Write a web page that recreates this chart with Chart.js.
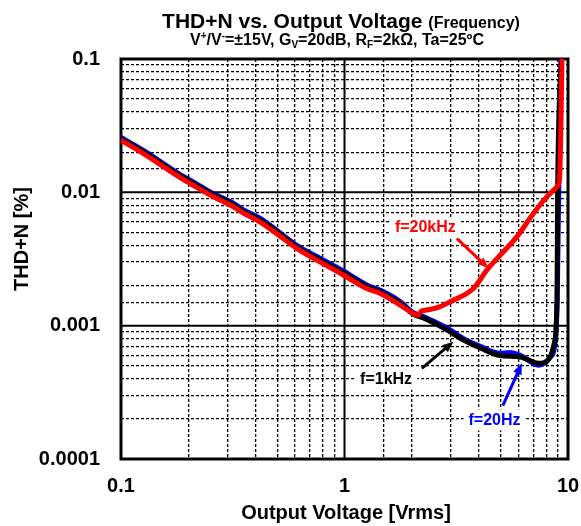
<!DOCTYPE html>
<html>
<head>
<meta charset="utf-8">
<title>THD+N vs. Output Voltage</title>
<script src="https://cdn.jsdelivr.net/npm/chart.js@4/dist/chart.umd.min.js"></script>
<style>
  html, body { margin: 0; padding: 0; background: #fff; }
  canvas { display: block; }
</style>
</head>
<body>
<canvas id="thd-chart" width="581" height="526"></canvas>
<script>
/* ===================== DATA ===================== */

// f=20kHz
const redX = [0.1, 0.1255, 0.1865, 0.203, 0.258, 0.318, 0.352, 0.418, 0.497, 0.611, 0.751, 0.988, 1.258, 1.442, 1.773, 2.141, 2.2, 2.335, 2.68, 2.97, 3.78, 4.34, 5.91, 7.01, 8.05, 8.93, 9.17, 9.27, 9.4];
const redY = [0.0245, 0.0196, 0.0127, 0.0117, 0.0093, 0.0078, 0.0070, 0.0060, 0.0049, 0.0038, 0.0031, 0.0024, 0.0019, 0.00175, 0.00143, 0.0012, 0.00128, 0.00131, 0.00139, 0.00151, 0.00191, 0.00262, 0.00465, 0.00696, 0.00928, 0.0110, 0.0127, 0.0247, 0.1];

// f=1kHz
const blackX = [0.1, 0.1255, 0.1865, 0.203, 0.258, 0.318, 0.352, 0.418, 0.497, 0.611, 0.751, 0.988, 1.258, 1.442, 1.773, 2.033, 2.255, 2.87, 3.41, 4.05, 4.97, 6.11, 7.38, 8.33, 8.68, 8.93, 8.98, 9.35];
const blackY = [0.0252, 0.0202, 0.0131, 0.0121, 0.0096, 0.0081, 0.0072, 0.0062, 0.0051, 0.0039, 0.0032, 0.00250, 0.00197, 0.0018, 0.00148, 0.00122, 0.00114, 0.00093, 0.00078, 0.00068, 0.000597, 0.000582, 0.000522, 0.000585, 0.000738, 0.00156, 0.0088, 0.1];

// f=20Hz
const blueX = [0.1, 0.1255, 0.1865, 0.203, 0.258, 0.318, 0.352, 0.418, 0.497, 0.611, 0.751, 0.988, 1.258, 1.442, 1.773, 2.033, 2.255, 2.87, 3.41, 4.05, 4.97, 5.5, 6.11, 7.38, 8.33, 8.75, 8.95, 9.05, 9.15, 9.3];
const blueY = [0.0258, 0.0207, 0.0134, 0.0124, 0.0098, 0.0083, 0.0074, 0.0064, 0.0052, 0.0040, 0.0033, 0.00257, 0.00202, 0.00185, 0.00152, 0.00125, 0.00117, 0.00096, 0.0008, 0.0007, 0.00062, 0.00063, 0.0006, 0.000505, 0.00058, 0.00075, 0.0016, 0.006, 0.02, 0.1];

// axes
const xTickValues = [0.1, 1, 10];
const xTickLabels = ["0.1", "1", "10"];
const yTickValues = [0.0001, 0.001, 0.01, 0.1];
const yTickLabels = ["0.0001", "0.001", "0.01", "0.1"];

// annotations (data coordinates)
const noteTexts = ["f=20kHz", "f=1kHz", "f=20Hz"];
const noteAt = [[2.3, 0.0055], [1.535, 0.0004], [4.69, 0.000198]];
const arrowFrom = [[3.18, 0.00452], [2.218, 0.000479], [5.11, 0.000251]];
const arrowTo = [[4.41, 0.00269], [3.07, 0.000759], [6.22, 0.000522]];

/* ===================== HELPERS ===================== */

const FONT = "'Liberation Sans', Arial, sans-serif";
const RED = "#ff0000";
const BLACK = "#000000";
const BLUE = "#0000ff";
const noteColors = [RED, BLACK, BLUE];

const toPoints = (xs, ys) => xs.map((x, i) => ({ x, y: ys[i] }));

function decadeLabel(v, values, labels) {
  const i = values.findIndex((t) => Math.abs(Math.log10(v) - Math.log10(t)) < 1e-6);
  return i >= 0 ? labels[i] : "";
}

function isDecade(v) {
  const l = Math.log10(v);
  return Math.abs(l - Math.round(l)) < 1e-6;
}

/* ===================== PLUGINS ===================== */

// solid decade lines + plot frame (under the curves)
const frameGrid = {
  id: "frameGrid",
  beforeDatasetsDraw(chart) {
    const { ctx, chartArea: a, scales } = chart;
    ctx.save();
    ctx.strokeStyle = BLACK;
    ctx.lineWidth = 2;
    ctx.setLineDash([]);
    xTickValues.forEach((v) => {
      const px = scales.x.getPixelForValue(v);
      ctx.beginPath();
      ctx.moveTo(px, a.top);
      ctx.lineTo(px, a.bottom);
      ctx.stroke();
    });
    yTickValues.forEach((v) => {
      const py = scales.y.getPixelForValue(v);
      ctx.beginPath();
      ctx.moveTo(a.left, py);
      ctx.lineTo(a.right, py);
      ctx.stroke();
    });
    ctx.lineWidth = 3;
    ctx.strokeRect(a.left, a.top, a.right - a.left, a.bottom - a.top);
    ctx.restore();
  },
};

function drawRich(ctx, parts, cx, baseline) {
  // parts: [text, size, dy]
  let total = 0;
  parts.forEach((p) => {
    ctx.font = `bold ${p[1]}px ${FONT}`;
    total += ctx.measureText(p[0]).width;
  });
  let x = cx - total / 2;
  parts.forEach((p) => {
    ctx.font = `bold ${p[1]}px ${FONT}`;
    ctx.fillText(p[0], x, baseline + p[2]);
    x += ctx.measureText(p[0]).width;
  });
}

const texts = {
  id: "texts",
  afterDatasetsDraw(chart) {
    const { ctx, scales } = chart;
    ctx.save();
    ctx.fillStyle = BLACK;
    ctx.textAlign = "left";
    ctx.textBaseline = "alphabetic";

    // titles
    drawRich(ctx, [["THD+N vs. Output Voltage ", 21, 0], ["(Frequency)", 16, 0]], 341, 28);
    drawRich(ctx, [
      ["V", 16, 0], ["+", 10, -6], ["/V", 16, 0], ["-", 10, -6],
      ["=\u00b115V, G", 16, 0], ["V", 10, 3], ["=20dB, R", 16, 0], ["F", 10, 3],
      ["=2k\u03a9, Ta=25\u00baC", 16, 0],
    ], 337, 45);

    // axis titles
    ctx.font = `bold 20px ${FONT}`;
    ctx.textAlign = "center";
    ctx.fillText("Output Voltage [Vrms]", 346, 519);
    ctx.save();
    ctx.translate(22, 239);
    ctx.rotate(-Math.PI / 2);
    ctx.textBaseline = "middle";
    ctx.fillText("THD+N [%]", 0, 0);
    ctx.restore();

    // notes with arrows
    noteTexts.forEach((t, i) => {
      const color = noteColors[i];
      const fx = scales.x.getPixelForValue(arrowFrom[i][0]);
      const fy = scales.y.getPixelForValue(arrowFrom[i][1]);
      const tx = scales.x.getPixelForValue(arrowTo[i][0]);
      const ty = scales.y.getPixelForValue(arrowTo[i][1]);
      const ang = Math.atan2(ty - fy, tx - fx);
      const head = 11;
      ctx.strokeStyle = color;
      ctx.fillStyle = color;
      ctx.lineWidth = 3;
      ctx.beginPath();
      ctx.moveTo(fx, fy);
      ctx.lineTo(tx - Math.cos(ang) * head * 0.8, ty - Math.sin(ang) * head * 0.8);
      ctx.stroke();
      ctx.beginPath();
      ctx.moveTo(tx, ty);
      ctx.lineTo(tx - head * Math.cos(ang) + 4.5 * Math.sin(ang), ty - head * Math.sin(ang) - 4.5 * Math.cos(ang));
      ctx.lineTo(tx - head * Math.cos(ang) - 4.5 * Math.sin(ang), ty - head * Math.sin(ang) + 4.5 * Math.cos(ang));
      ctx.closePath();
      ctx.fill();

      const cx = scales.x.getPixelForValue(noteAt[i][0]);
      const cy = scales.y.getPixelForValue(noteAt[i][1]);
      ctx.font = `bold 16px ${FONT}`;
      const w = ctx.measureText(t).width;
      ctx.fillStyle = "#ffffff";
      ctx.fillRect(cx - w / 2 - 5, cy - 10, w + 10, 21);
      ctx.fillStyle = color;
      ctx.textAlign = "center";
      ctx.textBaseline = "middle";
      ctx.fillText(t, cx, cy + 1);
    });
    ctx.restore();
  },
};

/* ===================== CHART ===================== */

const lineStyle = {
  pointRadius: 0,
  borderWidth: 5,
  cubicInterpolationMode: "monotone",
  fill: false,
  borderJoinStyle: "round",
  borderCapStyle: "round",
};

new Chart(document.getElementById("thd-chart"), {
  type: "line",
  data: {
    datasets: [
      { label: "f=20kHz", data: toPoints(redX, redY), borderColor: RED, ...lineStyle },
      { label: "f=1kHz", data: toPoints(blackX, blackY), borderColor: BLACK, ...lineStyle },
      { label: "f=20Hz", data: toPoints(blueX, blueY), borderColor: BLUE, ...lineStyle },
    ],
  },
  options: {
    responsive: false,
    animation: false,
    devicePixelRatio: 1,
    layout: { padding: { top: 59, right: 0, left: 0, bottom: 0 } },
    plugins: { legend: { display: false }, tooltip: { enabled: false } },
    scales: {
      x: {
        type: "logarithmic",
        min: 0.1,
        max: 10,
        afterFit: (s) => { s.height = 67; s.paddingRight = 13; },
        grid: {
          color: BLACK,
          lineWidth: (c) => (c.tick && isDecade(c.tick.value) ? 0 : 1.3),
          drawTicks: false,
        },
        border: { display: false, dash: [3, 2] },
        ticks: {
          autoSkip: false,
          maxRotation: 0,
          padding: 15,
          color: BLACK,
          font: { family: FONT, size: 20, weight: "bold" },
          callback: (v) => decadeLabel(v, xTickValues, xTickLabels),
        },
      },
      y: {
        type: "logarithmic",
        min: 0.0001,
        max: 0.1,
        afterFit: (s) => { s.width = 121; },
        grid: {
          color: BLACK,
          lineWidth: (c) => (c.tick && isDecade(c.tick.value) ? 0 : 1.3),
          drawTicks: false,
        },
        border: { display: false, dash: [3, 2] },
        ticks: {
          autoSkip: false,
          padding: 21,
          color: BLACK,
          font: { family: FONT, size: 20, weight: "bold" },
          callback: (v) => decadeLabel(v, yTickValues, yTickLabels),
        },
      },
    },
  },
  plugins: [frameGrid, texts],
});
</script>
</body>
</html>
